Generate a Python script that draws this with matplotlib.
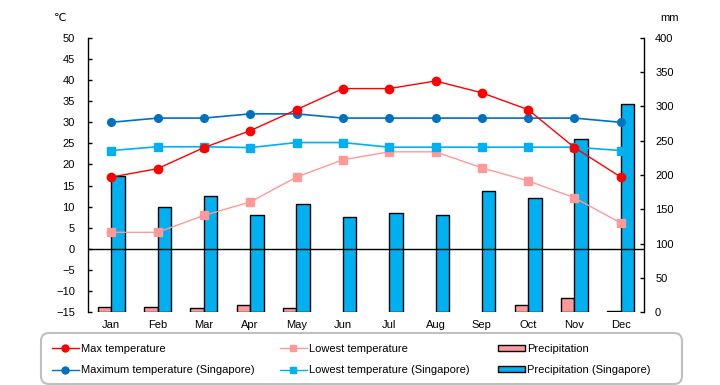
import matplotlib
matplotlib.use("Agg")
import matplotlib.pyplot as plt
import numpy as np
from matplotlib.lines import Line2D
from matplotlib.patches import Patch, FancyBboxPatch
from matplotlib.transforms import IdentityTransform

months = ["Jan", "Feb", "Mar", "Apr", "May", "Jun", "Jul", "Aug", "Sep", "Oct", "Nov", "Dec"]
max_temp = [17, 19, 24, 28, 33, 38, 38, 39.8, 37, 33, 24, 17]
low_temp = [3.9, 3.9, 7.9, 11.1, 17, 21.1, 23, 23, 19.2, 16.1, 12.1, 6.1]
max_temp_sg = [30, 31, 31, 32, 32, 31, 31, 31, 31, 31, 31, 30]
low_temp_sg = [23.3, 24.2, 24.2, 24, 25.2, 25.2, 24.1, 24.1, 24.1, 24.1, 24.1, 23.3]
precip = [8, 8, 5.4, 10.8, 6.4, 0, 0, 0, 0, 10.8, 21, 2]
precip_sg = [198, 154, 170, 141, 158, 139, 145, 142, 177, 167, 252, 304]

plt.rcParams['font.family'] = ['Liberation Sans', 'DejaVu Sans']
plt.rcParams['font.size'] = 8

fig = plt.figure(figsize=(7.2, 3.85), dpi=100)
ax = fig.add_axes([88/720, 1-312/385, (644-88)/720, (312-38)/385])
ax2 = ax.twinx()

x = np.arange(len(months))
w = 0.29
edge_p = ["black" if v > 0 else "none" for v in precip]
ax2.bar(x - w/2, precip, width=w, color="#FF9999", edgecolor=edge_p, linewidth=1, zorder=2)
ax2.bar(x + w/2, precip_sg, width=w, color="#00B0F0", edgecolor="black", linewidth=1, zorder=2)
ax2.set_ylim(0, 400)
ax2.set_yticks(range(0, 401, 50))
ax2.set_facecolor("#FFFFCC")

ax.set_zorder(ax2.get_zorder() + 1)
ax.patch.set_visible(False)

ax.axhline(0, color="black", linewidth=1, zorder=1)
ax.plot(x, max_temp, color="#FF0000", marker="o", markersize=6, linewidth=1, zorder=5)
ax.plot(x, low_temp, color="#FF9999", marker="s", markersize=5.5, linewidth=1, zorder=4)
ax.plot(x, max_temp_sg, color="#0070C0", marker="o", markersize=5.5, linewidth=1.2, zorder=4)
ax.plot(x, low_temp_sg, color="#00B0F0", marker="s", markersize=5.5, linewidth=1.2, zorder=4)

ax.set_xlim(-0.5, 11.5)
ax.set_ylim(-15, 50)
ax.set_yticks(range(-15, 51, 5))
ax.set_xticks(x)
ax.set_xticklabels(months)
ax.tick_params(axis="x", length=0, pad=6)
ax.tick_params(axis="y", direction="in", length=3, width=1, pad=9.5)
ax2.tick_params(axis="y", direction="in", length=3, width=1, pad=8)

for a in (ax, ax2):
    a.spines["top"].set_visible(False)
    a.spines["bottom"].set_visible(False)
    a.spines["left"].set_linewidth(1)
    a.spines["right"].set_linewidth(1)
ax.spines["right"].set_visible(False)
ax2.spines["left"].set_visible(False)

fig.text(60/720, 1-18/385, "℃", ha="center", va="center", fontsize=8)
fig.text(670/720, 1-18/385, "mm", ha="center", va="center", fontsize=8)

# legend frame
frame = FancyBboxPatch((41, 385-384), 682-41, 384-333,
                       boxstyle="round,pad=0,rounding_size=8",
                       facecolor="white", edgecolor="#C0C0C0", linewidth=1.5,
                       transform=IdentityTransform(), zorder=0)
fig.add_artist(frame)

col_handles = [
    [Line2D([], [], color="#FF0000", marker="o", markersize=5, linewidth=1),
     Line2D([], [], color="#0070C0", marker="o", markersize=5, linewidth=1)],
    [Line2D([], [], color="#FF9999", marker="s", markersize=5, linewidth=1),
     Line2D([], [], color="#00B0F0", marker="s", markersize=5, linewidth=1)],
    [Patch(facecolor="#FF9999", edgecolor="black"),
     Patch(facecolor="#00B0F0", edgecolor="black")],
]
col_labels = [
    ["Max temperature", "Maximum temperature (Singapore)"],
    ["Lowest temperature", "Lowest temperature (Singapore)"],
    ["Precipitation", "Precipitation (Singapore)"],
]
col_x = [52, 280, 498]
for hs, ls, cx in zip(col_handles, col_labels, col_x):
    lg = fig.legend(hs, ls, loc="center left",
                    bbox_to_anchor=(cx/720, (385-359.5)/385),
                    frameon=False, borderpad=0, borderaxespad=0,
                    handlelength=2.4, handletextpad=0.2, handleheight=0.5,
                    labelspacing=1.0, fontsize=8)
    lg.set_zorder(2)

fig.savefig("out.png", dpi=100)
